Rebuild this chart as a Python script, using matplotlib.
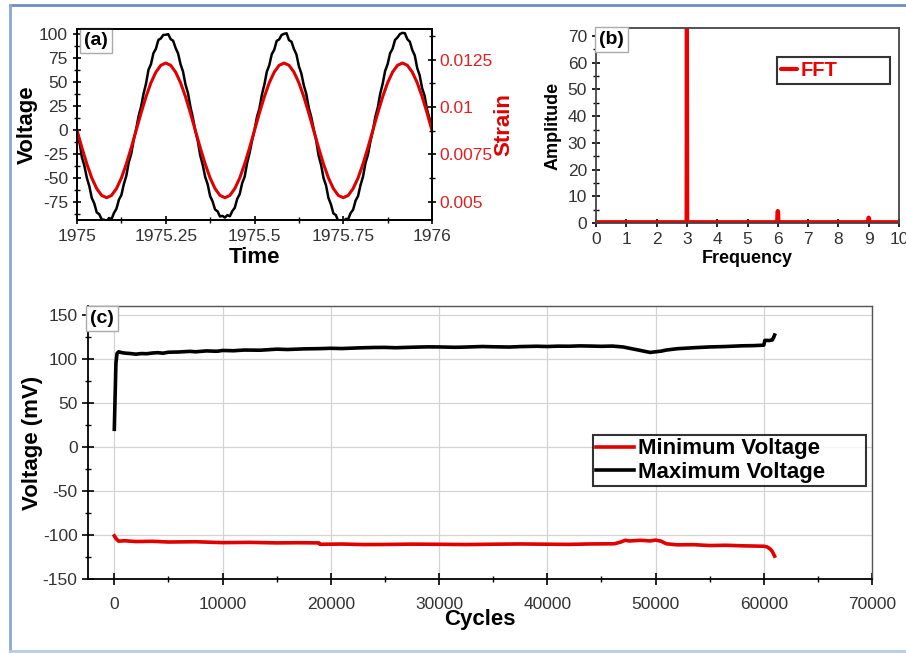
import numpy as np
import matplotlib
matplotlib.use("Agg")
import matplotlib.pyplot as plt
from matplotlib.ticker import MultipleLocator, FixedLocator, FixedFormatter
from matplotlib.lines import Line2D

plt.rcParams['font.family'] = ['Liberation Sans', 'DejaVu Sans']
plt.rcParams['axes.unicode_minus'] = False

# ---- panel (a): voltage and strain over one year of "time" ----
time_volt = np.linspace(1975, 1976, 145)
voltage = [0, -14, -27, -38, -49, -60, -69, -77, -84, -89, -92, -94, -95, -93, -91, -87, -81, -74, -66, -57, -46, -35, -24, -11,
           1, 13, 26, 37, 49, 61, 70, 79, 86, 92, 96, 98, 99, 98, 96, 92, 86, 78, 70, 60, 49, 37, 25, 12,
           -1, -13, -25, -37, -48, -58, -67, -75, -81, -86, -89, -90, -91, -90, -88, -85, -80, -73, -65, -56, -47, -36, -23, -12,
           0, 12, 24, 36, 48, 59, 69, 78, 85, 91, 95, 98, 100, 99, 95, 91, 85, 77, 68, 58, 48, 36, 24, 13,
           1, -12, -25, -37, -49, -59, -69, -78, -85, -90, -94, -95, -96, -94, -91, -87, -82, -75, -67, -58, -47, -36, -25, -13,
           -1, 12, 25, 37, 49, 60, 70, 79, 86, 92, 97, 99, 101, 99, 96, 91, 84, 76, 66, 56, 45, 34, 22, 11,
           0]
jitter = [0, 2, -2, 1, -1, 2, -2, 1, -2, 2, -1, 1]

time_strain = np.linspace(1975, 1976, 73)
strain = [0.00877, 0.00785, 0.00699, 0.00625, 0.00569, 0.00533, 0.00521, 0.00533, 0.00569, 0.00625, 0.00699, 0.00785,
          0.00877, 0.00969, 0.01055, 0.01129, 0.01185, 0.01221, 0.01233, 0.01221, 0.01185, 0.01129, 0.01055, 0.00969,
          0.00877, 0.00785, 0.00699, 0.00625, 0.00569, 0.00533, 0.00521, 0.00533, 0.00569, 0.00625, 0.00699, 0.00785,
          0.00877, 0.00969, 0.01055, 0.01129, 0.01185, 0.01221, 0.01233, 0.01221, 0.01185, 0.01129, 0.01055, 0.00969,
          0.00877, 0.00785, 0.00699, 0.00625, 0.00569, 0.00533, 0.00521, 0.00533, 0.00569, 0.00625, 0.00699, 0.00785,
          0.00877, 0.00969, 0.01055, 0.01129, 0.01185, 0.01221, 0.01233, 0.01221, 0.01185, 0.01129, 0.01055, 0.00969,
          0.00877]

# ---- panel (b): FFT ----
freq = [0, 2.99, 3.0, 3.01, 5.98, 5.99, 6.0, 6.01, 6.02, 8.98, 8.99, 9.0, 9.01, 9.02, 10]
amplitude = [0.3, 0.3, 76, 0.3, 0.3, 4.0, 4.5, 4.0, 0.3, 0.3, 1.8, 2.0, 1.8, 0.3, 0.3]

# ---- panel (c): min / max voltage vs cycles ----
cycles_max = [0, 60, 150, 250, 400, 700, 1000, 1500, 2000, 2500, 3000, 3500, 4000, 4500, 5000, 6000, 7000, 7500,
              8500, 9500, 10000, 11000, 12000, 13500, 15000, 16000, 17500, 19000, 20000, 21000, 22500, 24000,
              25000, 26000, 27500, 29000, 30000, 31500, 32500, 34000, 35000, 36500, 37500, 39000, 40000, 41000,
              42000, 43000, 44000, 45000, 46000, 47000, 48000, 48500, 49000, 49500, 50000, 50500, 51000, 52000,
              53500, 55000, 56500, 58000, 59000, 60000, 60050, 60100, 60500, 60800, 60850, 60900, 61000]
volt_max = [20, 50, 95, 106, 108, 107, 106.5, 106, 105.3, 106, 105.8, 106.6, 107, 106.4, 107.5, 107.8, 108.5, 108,
            109, 108.6, 109.5, 109.2, 110, 109.8, 111, 110.6, 111.3, 111.6, 112, 111.7, 112.4, 112.9,
            113, 112.6, 113.2, 113.6, 113.5, 113.1, 113.4, 114, 113.7, 113.4, 113.9, 114.3, 114, 114.4,
            114.3, 114.7, 114.5, 114.2, 114.5, 113.5, 111, 109.8, 108.5, 107.3, 108, 108.7, 110, 111.5,
            112.6, 113.5, 114, 114.8, 115, 115.5, 118, 121, 120.8, 121.5, 123, 124, 127]

cycles_min = [0, 150, 400, 1000, 2000, 3500, 5000, 7500, 10000, 12500, 15000, 17000, 18900, 19000, 21000, 23000,
              25000, 27500, 30000, 32500, 35000, 37500, 40000, 42000, 44000, 46200, 46800, 47200, 47600, 48000,
              48500, 49000, 49500, 50000, 50500, 51000, 52000, 53500, 55000, 56500, 58000, 60000, 60300, 60600,
              60800, 61000]
volt_min = [-101, -104, -107, -106.6, -107.5, -107.2, -108, -107.7, -108.7, -108.4, -109, -108.8, -109, -110.6,
            -110.3, -110.9, -110.8, -110.4, -110.6, -110.9, -110.5, -110.2, -110.5, -110.7, -110.2, -110, -108,
            -106, -106.8, -106.5, -106.1, -106.3, -106.8, -105.8, -107, -110, -111.2, -111, -112, -111.7, -112.3,
            -112.8, -113.5, -116, -119, -124]

W, H = 906, 653
fig = plt.figure(figsize=(W / 100, H / 100), dpi=100)


def box(l, t, r, b):
    return [l / W, 1 - b / H, (r - l) / W, (b - t) / H]


tick_color = '#333333'


def style(ax):
    ax.tick_params(which='major', direction='inout', length=8, width=1.2, labelsize=12.5, labelcolor=tick_color)
    ax.tick_params(which='minor', direction='inout', length=5, width=1)
    for s in ax.spines.values():
        s.set_linewidth(1.3)


def panel_label(ax, txt, x, y):
    ax.text(x, y, txt, transform=ax.transAxes, ha='left', va='top', fontsize=14, fontweight='bold',
            bbox=dict(boxstyle='square,pad=0.2', fc='white', ec='#aaaaaa', lw=1), zorder=10)


# (a)
ax1 = fig.add_axes(box(77, 29, 432, 220))
v = [val + jitter[i % len(jitter)] * 0.8 for i, val in enumerate(voltage)]
ax1.plot(time_volt, v, color='black', lw=1.8)
ax1.set_xlim(1975, 1976)
ax1.set_ylim(-93.5, 105)
ax1.yaxis.set_major_locator(MultipleLocator(25))
ax1.yaxis.set_minor_locator(MultipleLocator(12.5))
ax1.xaxis.set_major_locator(FixedLocator([1975, 1975.25, 1975.5, 1975.75, 1976]))
ax1.xaxis.set_major_formatter(FixedFormatter(['1975', '1975.25', '1975.5', '1975.75', '1976']))
ax1.xaxis.set_minor_locator(MultipleLocator(0.125))
style(ax1)
ax1.tick_params(which='major', length=6)
ax1.set_ylabel('Voltage', fontsize=16, fontweight='bold', labelpad=1)
ax1.set_xlabel('Time', fontsize=16, fontweight='bold', labelpad=2)
panel_label(ax1, '(a)', 0.02, 0.985)

ax1r = ax1.twinx()
ax1r.plot(time_strain, strain, color='#e00000', lw=2.2)
ax1r.set_ylim(0.00403, 0.01413)
ax1r.yaxis.set_major_locator(FixedLocator([0.005, 0.0075, 0.01, 0.0125]))
ax1r.yaxis.set_major_formatter(FixedFormatter(['0.005', '0.0075', '0.01', '0.0125']))
ax1r.yaxis.set_minor_locator(MultipleLocator(0.00125))
style(ax1r)
ax1r.tick_params(which='major', length=6, pad=2)
ax1r.tick_params(axis='y', labelcolor='#e02020', labelsize=12.5)
ax1r.set_ylabel('Strain', fontsize=16, fontweight='bold', color='#e00000', labelpad=1)

# (b)
ax2 = fig.add_axes(box(596, 28, 899, 223))
ax2.plot(freq, amplitude, color='#ee0000', lw=3, solid_capstyle='round', label='FFT', clip_on=True)
ax2.set_xlim(0, 10)
ax2.set_ylim(0, 73)
ax2.xaxis.set_major_locator(MultipleLocator(1))
ax2.yaxis.set_major_locator(MultipleLocator(10))
ax2.yaxis.set_minor_locator(MultipleLocator(5))
style(ax2)
ax2.tick_params(which='major', length=6)
for s in ax2.spines.values():
    s.set_color('#444444')
ax2.set_ylabel('Amplitude', fontsize=13, fontweight='bold', labelpad=4)
ax2.set_xlabel('Frequency', fontsize=13, fontweight='bold', labelpad=2)
panel_label(ax2, '(b)', 0.01, 0.985)
leg2 = ax2.legend(loc='lower left', bbox_to_anchor=(0.597, 0.713, 0.373, 0.128), mode='expand',
                  borderaxespad=0, handlelength=0.8, handletextpad=0.2, borderpad=0.2, fancybox=False,
                  prop={'weight': 'bold', 'size': 14.5})
leg2.get_frame().set_edgecolor('black')
leg2.get_frame().set_linewidth(1.5)
for t in leg2.get_texts():
    t.set_color('#ee0000')

# (c)
ax3 = fig.add_axes(box(88, 306, 872, 579))
ax3.plot(cycles_min, volt_min, color='#e00000', lw=2.6, label='Minimum Voltage')
ax3.plot(cycles_max, volt_max, color='black', lw=2.6, label='Maximum Voltage')
ax3.set_xlim(-2430, 70000)
ax3.set_ylim(-150, 160)
ax3.xaxis.set_major_locator(MultipleLocator(10000))
ax3.xaxis.set_minor_locator(MultipleLocator(5000))
ax3.yaxis.set_major_locator(FixedLocator([-150, -100, -50, 0, 50, 100, 150]))
ax3.yaxis.set_minor_locator(MultipleLocator(25))
ax3.grid(True, which='major', color='#d4d4d4', lw=0.9)
ax3.set_axisbelow(True)
style(ax3)
ax3.tick_params(axis='x', pad=9)
for s in ['top', 'right']:
    ax3.spines[s].set_color('#555555')
    ax3.spines[s].set_linewidth(1.0)
ax3.set_ylabel('Voltage (mV)', fontsize=16, fontweight='bold', labelpad=0)
ax3.set_xlabel('Cycles', fontsize=16, fontweight='bold', labelpad=-2)
panel_label(ax3, '(c)', 0.003, 0.985)
leg3 = ax3.legend(loc='lower left', bbox_to_anchor=(0.644, 0.341, 0.348, 0.19), mode='expand',
                  borderaxespad=0, handlelength=1.7, handletextpad=0.2, borderpad=0.15, labelspacing=0.1,
                  fancybox=False, prop={'weight': 'bold', 'size': 16})
leg3.get_frame().set_edgecolor('black')
leg3.get_frame().set_linewidth(1.5)

# outer frame
fig.add_artist(Line2D([10 / W, 1], [1 - 4.5 / H, 1 - 4.5 / H], color='#6d8ec3', lw=2))
fig.add_artist(Line2D([10 / W, 10 / W], [1 - 4.5 / H, 1 - 651 / H], color='#8aa8d4', lw=2))
fig.add_artist(Line2D([10 / W, 1], [1 - 651 / H, 1 - 651 / H], color='#b3cde6', lw=2))

fig.savefig('out.png', dpi=100)
